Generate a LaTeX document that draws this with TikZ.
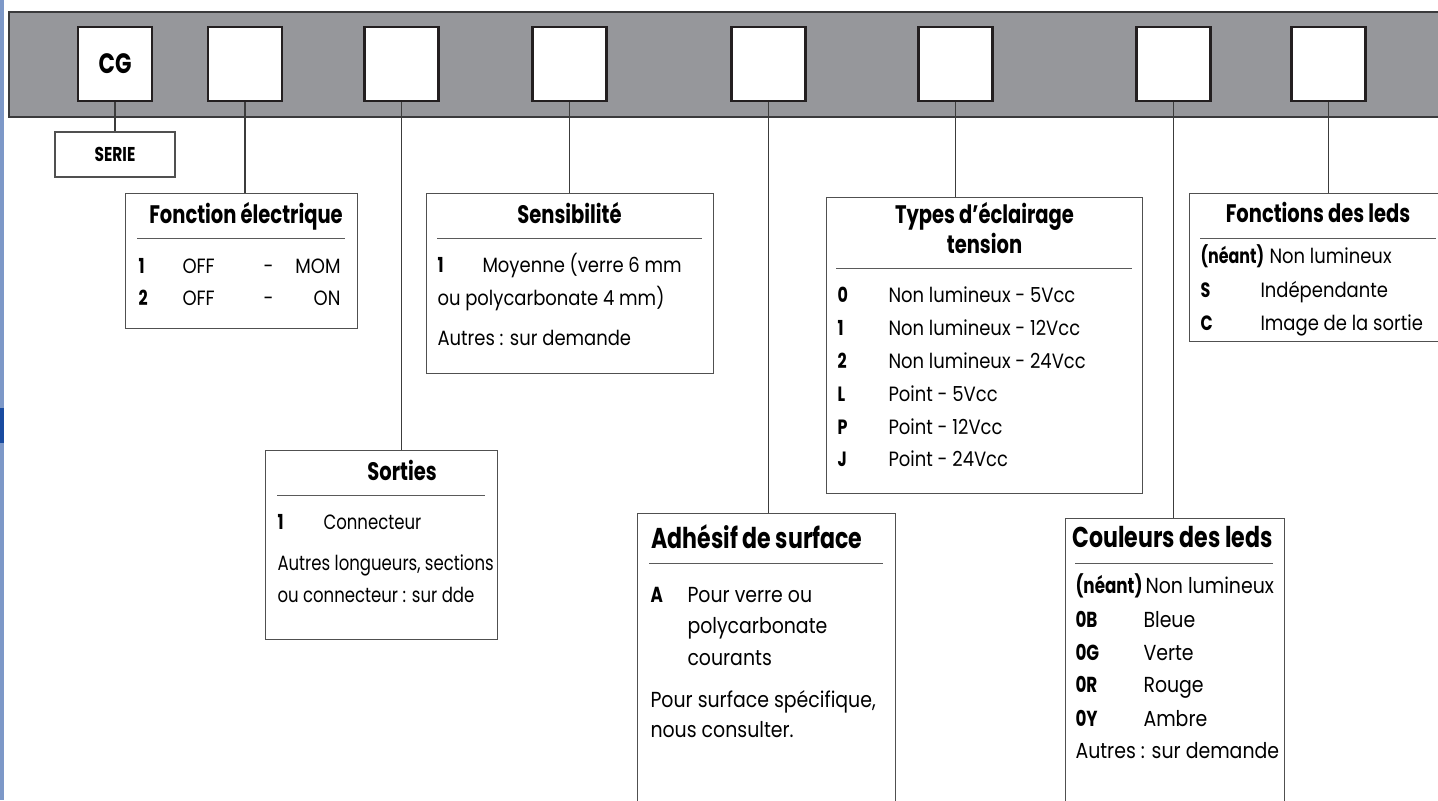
\documentclass[tikz,border=0pt]{standalone}
\usepackage{fontspec}
\setmainfont{Poppins}[FakeStretch=0.87]
\newfontfamily\headfont{Poppins}[FakeStretch=0.77]
\newfontfamily\sortfont{Poppins}[FakeStretch=0.8]

\tikzset{every picture/.style={line width=0.75pt}}
\tikzset{
  slot/.style={draw={rgb, 255:red, 35; green, 31; blue, 32}, line width=1.9pt, fill=white,
    minimum width=55.5pt, minimum height=55.5pt, inner sep=0pt,
    font=\headfont\bfseries\fontsize{21}{21}\selectfont},
  seriebox/.style={draw={rgb, 255:red, 80; green, 80; blue, 80}, line width=0.9pt, fill=white,
    minimum width=90pt, minimum height=33.75pt, inner sep=0pt,
    font=\headfont\bfseries\fontsize{15}{15}\selectfont},
  infobox/.style={draw={rgb, 255:red, 80; green, 80; blue, 80}, line width=0.9pt, fill=white,
    anchor=north west, inner sep=0pt},
  link/.style={draw={rgb, 255:red, 60; green, 60; blue, 60}, line width=0.8pt},
  rule/.style={draw={rgb, 255:red, 90; green, 90; blue, 90}, line width=0.75pt},
  boxtitle/.style={anchor=base, inner sep=0pt, font=\headfont\bfseries\fontsize{19}{22}\selectfont},
  code/.style={anchor=base west, inner sep=0pt, font=\headfont\bfseries\fontsize{15.5}{18}\selectfont},
  entry/.style={anchor=base west, inner sep=0pt, font=\fontsize{15.5}{18}\selectfont},
  sortentry/.style={entry, font=\sortfont\fontsize{15.5}{18}\selectfont},
  % lower boxes are set a little larger
  bigtitle/.style={boxtitle, font=\headfont\bfseries\fontsize{21.5}{24}\selectfont},
  bigcode/.style={code, font=\headfont\bfseries\fontsize{16.3}{19}\selectfont},
  bigentry/.style={entry, font=\fontsize{16.3}{19}\selectfont}
}

\begin{document}
\begin{tikzpicture}[x=0.75pt,y=0.75pt,yscale=-1,xscale=1]
	%set diagram to 1438 x 800
	\clip (0,0) rectangle (1438,800);
	\fill[white] (0,0) rectangle (1438,800);

	%Shape: Rectangle [left edge]
	\fill[fill={rgb, 255:red, 125; green, 152; blue, 200}] (0,0) rectangle (3.5,800);
	\fill[fill={rgb, 255:red, 25; green, 75; blue, 160}] (0,408) rectangle (3.5,443);
	%Shape: Rectangle [code bar]
	\draw[draw={rgb, 255:red, 58; green, 58; blue, 60}, fill={rgb, 255:red, 150; green, 151; blue, 155}, line width=1.1pt] (9,12) rectangle (1450,117);

	%Shape: Slots
	\node[slot] (s1) at (115,64) {CG};
	\node[slot] (s2) at (245,64) {};
	\node[slot] (s3) at (401.5,64) {};
	\node[slot] (s4) at (569.5,64) {};
	\node[slot] (s5) at (768.5,64) {};
	\node[slot] (s6) at (955.5,64) {};
	\node[slot] (s7) at (1173.5,64) {};
	\node[slot] (s8) at (1328.5,64) {};

	%Shape: Boxes
	\node[seriebox] (serie) at (115,154.5) {SERIE};
	\node[infobox, minimum width=174pt, minimum height=101.25pt] (fct) at (125,193) {};
	\node[infobox, minimum width=215.25pt, minimum height=135pt] (sens) at (426,193) {};
	\node[infobox, minimum width=174pt, minimum height=141.75pt] (sort) at (265,450) {};
	\node[infobox, minimum width=193.5pt, minimum height=240pt] (adh) at (637,513) {};
	\node[infobox, minimum width=237pt, minimum height=222pt] (typ) at (826,197) {};
	\node[infobox, minimum width=164.25pt, minimum height=225pt] (coul) at (1065,518) {};
	\node[infobox, minimum width=210pt, minimum height=111pt] (fled) at (1189,193) {};

	%Straight Lines [connectors]
	\draw[link] (s1.south) -- (serie.north);
	\draw[link] (s2.south) -- (s2.south |- fct.north);
	\draw[link] (s3.south) -- (s3.south |- sort.north);
	\draw[link] (s4.south) -- (s4.south |- sens.north);
	\draw[link] (s5.south) -- (s5.south |- adh.north);
	\draw[link] (s6.south) -- (s6.south |- typ.north);
	\draw[link] (s7.south) -- (s7.south |- coul.north);
	\draw[link] (s8.south) -- (s8.south |- fled.north);

	% Text Node [Fonction electrique]
	\node[boxtitle] (fct-t) at (246,223) {Fonction électrique};
	\draw[rule] (137,238) -- (345,238);
	\node[code] (fct-c1) at (138,273) {1};
	\node[entry] (fct-a1) at (182,273) {OFF};
	\node[entry] (fct-d1) at (263,273) {-};
	\node[entry, anchor=base east] (fct-b1) at (341,273) {MOM};
	\node[code] (fct-c2) at (138,305) {2};
	\node[entry] (fct-a2) at (182,305) {OFF};
	\node[entry] (fct-d2) at (263,305) {-};
	\node[entry, anchor=base east] (fct-b2) at (341,305) {ON};

	% Text Node [Sensibilite]
	\node[boxtitle] (sens-t) at (569.5,223) {Sensibilité};
	\draw[rule] (437,238) -- (702,238);
	\node[code] (sens-c1) at (437,272) {1};
	\node[entry] (sens-e1) at (482,272) {Moyenne (verre 6 mm};
	\node[entry] (sens-e2) at (437,305) {ou polycarbonate 4 mm)};
	\node[entry] (sens-e3) at (437,345) {Autres : sur demande};

	% Text Node [Sorties]
	\node[boxtitle] (sort-t) at (402,480) {Sorties};
	\draw[rule] (277,495) -- (485,495);
	\node[code] (sort-c1) at (277,529) {1};
	\node[sortentry] (sort-e1) at (323,529) {Connecteur};
	\node[sortentry] (sort-e2) at (277,570) {Autres longueurs, sections};
	\node[sortentry] (sort-e3) at (277,602) {ou connecteur : sur dde};

	% Text Node [Types d'eclairage]
	\node[boxtitle] (typ-t1) at (984.5,223) {Types d’éclairage};
	\node[boxtitle] (typ-t2) at (984.5,253) {tension};
	\draw[rule] (836,268) -- (1132,268);
	\node[code] (typ-c1) at (837,302) {0};
	\node[entry] (typ-e1) at (888,302) {Non lumineux - 5Vcc};
	\node[code] (typ-c2) at (837,335) {1};
	\node[entry] (typ-e2) at (888,335) {Non lumineux - 12Vcc};
	\node[code] (typ-c3) at (837,368) {2};
	\node[entry] (typ-e3) at (888,368) {Non lumineux - 24Vcc};
	\node[code] (typ-c4) at (837,401) {L};
	\node[entry] (typ-e4) at (888,401) {Point - 5Vcc};
	\node[code] (typ-c5) at (837,434) {P};
	\node[entry] (typ-e5) at (888,434) {Point - 12Vcc};
	\node[code] (typ-c6) at (837,466) {J};
	\node[entry] (typ-e6) at (888,466) {Point - 24Vcc};

	% Text Node [Adhesif de surface]
	\node[bigtitle] (adh-t) at (757,548) {Adhésif de surface};
	\draw[rule] (649,563) -- (883,563);
	\node[bigcode] (adh-c1) at (650,602) {A};
	\node[bigentry] (adh-e1) at (687,602) {Pour verre ou};
	\node[bigentry] (adh-e2) at (687,633) {polycarbonate};
	\node[bigentry] (adh-e3) at (687,665) {courants};
	\node[bigentry] (adh-e4) at (650,707) {Pour surface spécifique,};
	\node[bigentry] (adh-e5) at (650,737) {nous consulter.};

	% Text Node [Couleurs des leds]
	\node[bigtitle] (coul-t) at (1172.5,547) {Couleurs des leds};
	\draw[rule] (1075,563) -- (1273,563);
	\node[bigcode] (coul-c1) at (1075,593) {(néant)};
	\node[bigentry] (coul-e1) at (1145,593) {Non lumineux};
	\node[bigcode] (coul-c2) at (1075,627) {0B};
	\node[bigentry] (coul-e2) at (1143,627) {Bleue};
	\node[bigcode] (coul-c3) at (1075,660) {0G};
	\node[bigentry] (coul-e3) at (1143,660) {Verte};
	\node[bigcode] (coul-c4) at (1075,692) {0R};
	\node[bigentry] (coul-e4) at (1143,692) {Rouge};
	\node[bigcode] (coul-c5) at (1075,726) {0Y};
	\node[bigentry] (coul-e5) at (1143,726) {Ambre};
	\node[bigentry] (coul-e6) at (1075,758) {Autres : sur demande};

	% Text Node [Fonctions des leds]
	\node[boxtitle] (fled-t) at (1318,222) {Fonctions des leds};
	\draw[rule] (1200,238) -- (1436,238);
	\node[code] (fled-c1) at (1200,263) {(néant)};
	\node[entry] (fled-e1) at (1269,263) {Non lumineux};
	\node[code] (fled-c2) at (1200,297) {S};
	\node[entry] (fled-e2) at (1260,297) {Indépendante};
	\node[code] (fled-c3) at (1200,330) {C};
	\node[entry] (fled-e3) at (1260,330) {Image de la sortie};

\end{tikzpicture}
\end{document}
